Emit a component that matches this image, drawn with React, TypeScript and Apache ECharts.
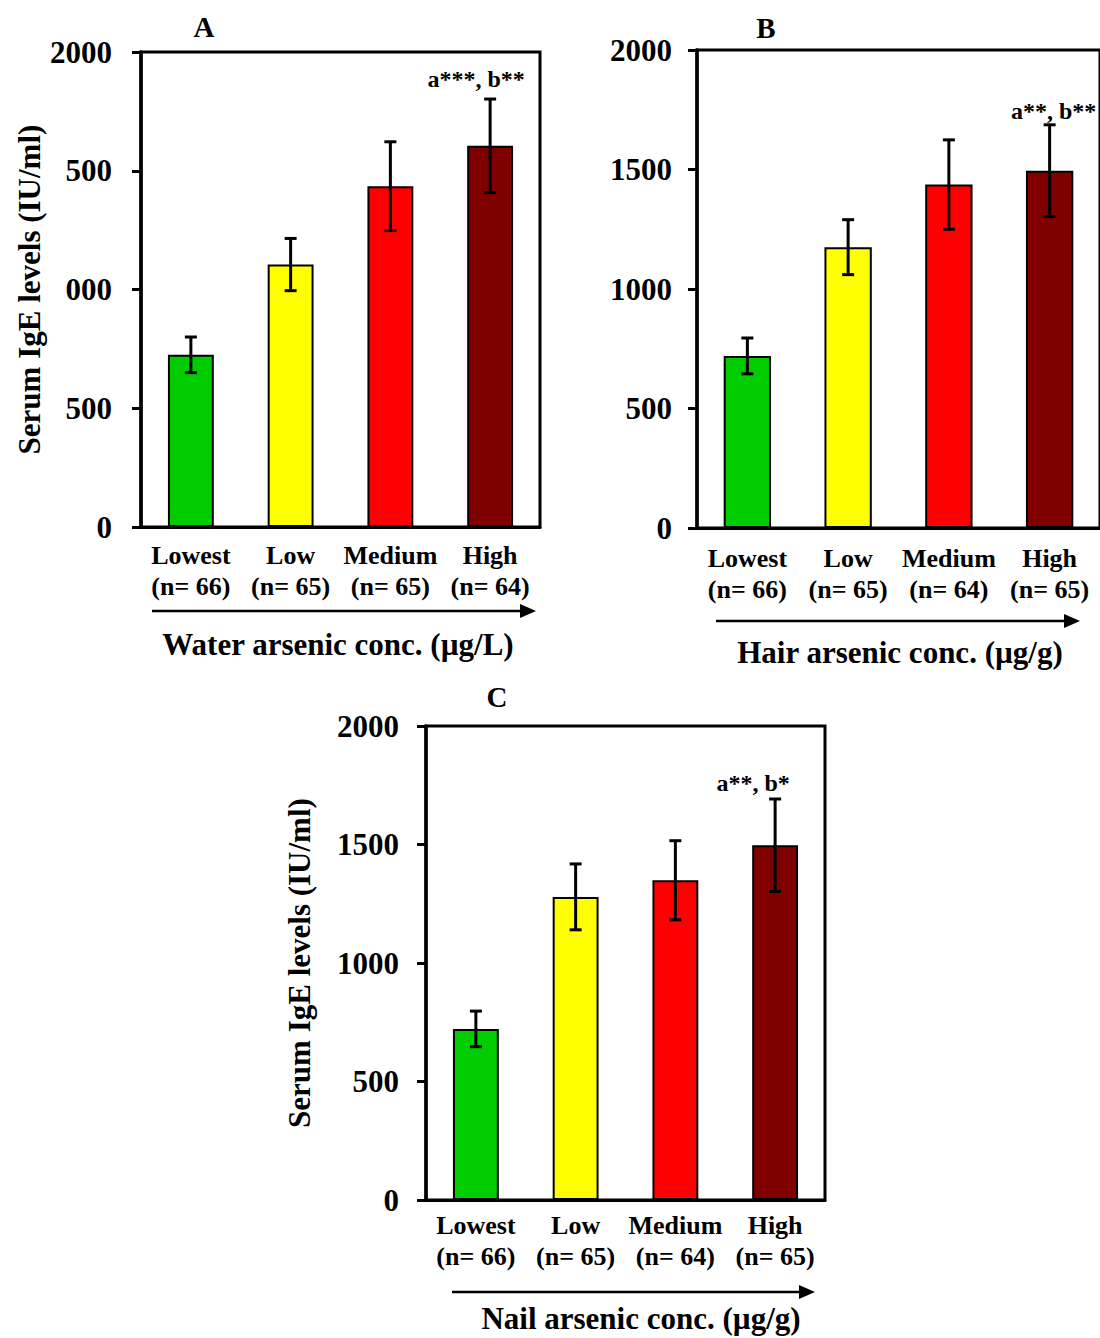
import React, { useEffect, useRef } from 'react';
import * as echarts from 'echarts';

// ---------- data ----------
const CATEGORIES = ['Lowest', 'Low', 'Medium', 'High'];
const BAR_COLORS = ['#00CC00', '#FFFF00', '#FF0000', '#800000'];

const A_N = [66, 65, 65, 64];
const A_MEAN = [725, 1105, 1435, 1605];
const A_ERR = [75, 110, 187, 197];
const A_NOTE = ['', '', '', 'a***, b**'];
const A_TICKS = ['0', '500', '000', '500', '2000'];

const B_N = [66, 65, 64, 65];
const B_MEAN = [720, 1175, 1437, 1495];
const B_ERR = [75, 115, 187, 192];
const B_NOTE = ['', '', '', 'a**, b**'];
const B_TICKS = ['0', '500', '1000', '1500', '2000'];

const C_N = [66, 65, 64, 65];
const C_MEAN = [722, 1279, 1349, 1497];
const C_ERR = [75, 139, 167, 195];
const C_NOTE = ['', '', '', 'a**, b*'];
const C_TICKS = ['0', '500', '1000', '1500', '2000'];

const Y_MIN = 0;
const Y_MAX = 2000;
const Y_STEP = 500;

const Y_NAME = 'Serum IgE levels (IU/ml)';

// ---------- layout / style ----------
const FONT = '"Liberation Serif", "Times New Roman", Times, serif';

const PANELS = [
  {
    title: 'A', n: A_N, mean: A_MEAN, err: A_ERR, note: A_NOTE, ticks: A_TICKS,
    xName: 'Water arsenic conc. (µg/L)', yName: Y_NAME,
    grid: { left: 141, top: 52, width: 399, height: 475 },
    labelMargin: 13, tickLabelMargin: 29, yNameGap: 112,
    titlePos: [204, 27], xNamePos: [338, 644], arrow: [152, 536, 611],
    noteOffset: [-14, -20], barWidth: '46%',
  },
  {
    title: 'B', n: B_N, mean: B_MEAN, err: B_ERR, note: B_NOTE, ticks: B_TICKS,
    xName: 'Hair arsenic conc. (µg/g)', yName: '',
    grid: { left: 697, top: 50, width: 408, height: 478 },
    labelMargin: 15, tickLabelMargin: 25, yNameGap: 0,
    titlePos: [766, 28], xNamePos: [900, 652], arrow: [716, 1080, 621],
    noteOffset: [4, -14], barWidth: '47%',
  },
  {
    title: 'C', n: C_N, mean: C_MEAN, err: C_ERR, note: C_NOTE, ticks: C_TICKS,
    xName: 'Nail arsenic conc. (µg/g)', yName: Y_NAME,
    grid: { left: 426, top: 726, width: 399, height: 474 },
    labelMargin: 10, tickLabelMargin: 27, yNameGap: 127,
    titlePos: [497, 697], xNamePos: [641, 1318], arrow: [452, 815, 1292],
    noteOffset: [-22, -16], barWidth: '46%',
  },
];

function buildOption() {
  const grid: any[] = [];
  const xAxis: any[] = [];
  const yAxis: any[] = [];
  const series: any[] = [];
  const graphic: any[] = [];

  PANELS.forEach((p, gi) => {
    grid.push({
      ...p.grid,
      show: true,
      borderColor: '#000',
      borderWidth: 3,
      backgroundColor: 'transparent',
      containLabel: false,
    });
    xAxis.push({
      type: 'category',
      gridIndex: gi,
      data: CATEGORIES,
      axisLine: { show: true, lineStyle: { color: '#000', width: 3 } },
      axisTick: { show: false },
      splitLine: { show: false },
      axisLabel: {
        interval: 0,
        margin: p.labelMargin,
        color: '#000',
        fontFamily: FONT,
        fontWeight: 'bold',
        fontSize: 26,
        lineHeight: 31,
        formatter: (v: string, i: number) => `${v}\n(n= ${p.n[i]})`,
      },
    });
    yAxis.push({
      type: 'value',
      gridIndex: gi,
      min: Y_MIN,
      max: Y_MAX,
      interval: Y_STEP,
      name: p.yName,
      nameLocation: 'middle',
      nameGap: p.yNameGap,
      nameRotate: 90,
      nameTextStyle: {
        color: '#000',
        fontFamily: FONT,
        fontWeight: 'bold',
        fontSize: 31,
        align: 'center',
        verticalAlign: 'middle',
      },
      axisLine: { show: true, lineStyle: { color: '#000', width: 3.5 } },
      axisTick: { show: true, inside: false, length: 9, lineStyle: { color: '#000', width: 3 } },
      splitLine: { show: false },
      axisLabel: {
        margin: p.tickLabelMargin,
        color: '#000',
        fontFamily: FONT,
        fontWeight: 'bold',
        fontSize: 31,
        formatter: (v: number) => p.ticks[Math.round((v - Y_MIN) / Y_STEP)] ?? String(v),
      },
    });
    series.push({
      type: 'bar',
      xAxisIndex: gi,
      yAxisIndex: gi,
      barWidth: p.barWidth,
      data: p.mean.map((v, i) => ({ value: v, itemStyle: { color: BAR_COLORS[i] } })),
      itemStyle: { borderColor: '#000', borderWidth: 2 },
      z: 2,
    });
    series.push({
      type: 'custom',
      xAxisIndex: gi,
      yAxisIndex: gi,
      z: 3,
      data: p.mean.map((v, i) => [i, v, p.err[i]]),
      renderItem: (params: any, api: any) => {
        const i = api.value(0);
        const m = api.value(1);
        const e = api.value(2);
        const top = api.coord([i, m + e]);
        const bot = api.coord([i, m - e]);
        const x = top[0];
        const cap = 6;
        const ls = { stroke: '#000', lineWidth: 3 };
        const children: any[] = [
          { type: 'line', shape: { x1: x, y1: top[1], x2: x, y2: bot[1] }, style: ls },
          { type: 'line', shape: { x1: x - cap, y1: top[1], x2: x + cap, y2: top[1] }, style: ls },
          { type: 'line', shape: { x1: x - cap, y1: bot[1], x2: x + cap, y2: bot[1] }, style: ls },
        ];
        const note = p.note[params.dataIndex];
        if (note) {
          children.push({
            type: 'text',
            style: {
              text: note,
              x: x + p.noteOffset[0],
              y: top[1] + p.noteOffset[1],
              textAlign: 'center',
              textVerticalAlign: 'middle',
              font: `bold 24px ${FONT}`,
              fill: '#000',
            },
          });
        }
        return { type: 'group', children };
      },
    });

    // panel title
    graphic.push({
      type: 'text',
      style: {
        text: p.title,
        x: p.titlePos[0],
        y: p.titlePos[1],
        textAlign: 'center',
        textVerticalAlign: 'middle',
        font: `bold 29px ${FONT}`,
        fill: '#000',
      },
    });
    // x-axis name
    graphic.push({
      type: 'text',
      style: {
        text: p.xName,
        x: p.xNamePos[0],
        y: p.xNamePos[1],
        textAlign: 'center',
        textVerticalAlign: 'middle',
        font: `bold 31px ${FONT}`,
        fill: '#000',
      },
    });
    // arrow
    const [x1, x2, ay] = p.arrow;
    graphic.push({
      type: 'line',
      shape: { x1, y1: ay, x2: x2 - 10, y2: ay },
      style: { stroke: '#000', lineWidth: 2.5 },
    });
    graphic.push({
      type: 'polygon',
      shape: { points: [[x2, ay], [x2 - 16, ay - 7], [x2 - 16, ay + 7]] },
      style: { fill: '#000' },
    });
  });

  return {
    animation: false,
    backgroundColor: '#fff',
    grid,
    xAxis,
    yAxis,
    series,
    graphic,
  };
}

export default function App() {
  const ref = useRef<HTMLDivElement>(null);
  useEffect(() => {
    if (!ref.current) return;
    const chart = echarts.init(ref.current, undefined, { renderer: 'svg' });
    chart.setOption(buildOption() as any);
    return () => chart.dispose();
  }, []);
  return (
    <div
      ref={ref}
      style={{ position: 'absolute', left: 0, top: 0, width: 1100, height: 1338, background: '#fff' }}
    />
  );
}
